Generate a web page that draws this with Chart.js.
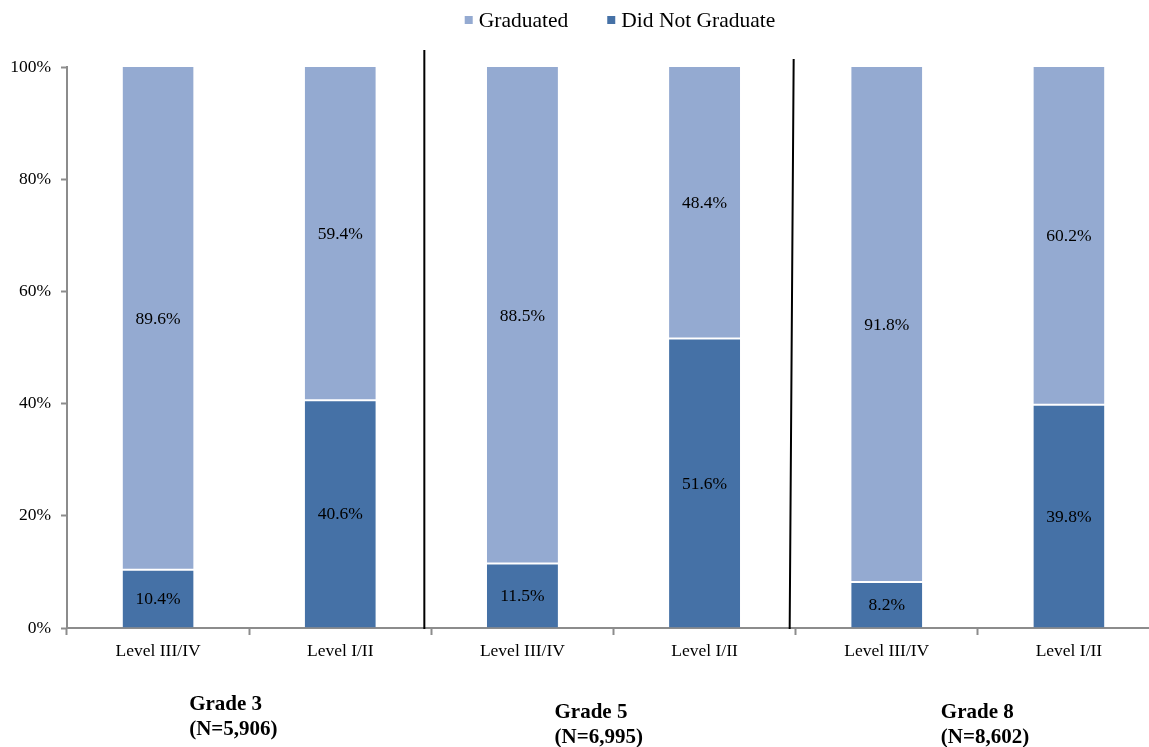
<!DOCTYPE html>
<html>
<head>
<meta charset="utf-8">
<script src="https://cdn.jsdelivr.net/npm/chart.js@4/dist/chart.umd.min.js"></script>
<style>
  html, body { margin: 0; padding: 0; background: #fff; overflow: hidden; }
  #wrap { width: 1149px; height: 747px; overflow: hidden; }
  canvas { display: block; }
</style>
</head>
<body>
<div id="wrap"><canvas id="gradChart" width="1160" height="747"></canvas></div>
<script>
const levels = ["Level III/IV", "Level I/II", "Level III/IV", "Level I/II", "Level III/IV", "Level I/II"];
const graduated = [89.6, 59.4, 88.5, 48.4, 91.8, 60.2];
const notGraduated = [10.4, 40.6, 11.5, 51.6, 8.2, 39.8];
const gradeNames = ["Grade 3", "Grade 5", "Grade 8"];
const gradeCounts = ["(N=5,906)", "(N=6,995)", "(N=8,602)"];
const yTicks = [0, 20, 40, 60, 80, 100];

const serif = "'Liberation Serif', 'Times New Roman', serif";

// value labels centred in each bar segment
const segmentLabels = {
  id: "segmentLabels",
  afterDatasetsDraw(chart) {
    const ctx = chart.ctx;
    ctx.save();
    ctx.font = "17.5px " + serif;
    ctx.fillStyle = "#000";
    ctx.textAlign = "center";
    ctx.textBaseline = "middle";
    chart.data.datasets.forEach((ds, i) => {
      chart.getDatasetMeta(i).data.forEach((bar, j) => {
        const mid = (bar.y + bar.base) / 2;
        ctx.fillText(ds.data[j].toFixed(1) + "%", bar.x, mid + 1);
      });
    });
    ctx.restore();
  }
};

// legend row at the top: Graduated first, then Did Not Graduate
const topLegend = {
  id: "topLegend",
  afterDraw(chart) {
    const ctx = chart.ctx;
    const items = chart.data.datasets.slice().reverse();
    ctx.save();
    ctx.font = "21.5px " + serif;
    ctx.textBaseline = "middle";
    ctx.textAlign = "left";
    const box = 8, gapBox = 6, gapItem = 39, y = 20;
    const widths = items.map((d) => box + gapBox + ctx.measureText(d.label).width);
    const total = widths.reduce((a, b) => a + b, 0) + gapItem * (items.length - 1);
    let x = chart.width / 2 + 40 - total / 2;
    items.forEach((d, i) => {
      ctx.fillStyle = d.backgroundColor;
      ctx.fillRect(x, y - box / 2, box, box);
      ctx.fillStyle = "#000";
      ctx.fillText(d.label, x + box + gapBox, y + 1);
      x += widths[i] + gapItem;
    });
    ctx.restore();
  }
};

// black dividers between grades and the grade captions underneath
const gradeGroups = {
  id: "gradeGroups",
  afterDraw(chart) {
    const ctx = chart.ctx;
    const x = chart.scales.x;
    const area = chart.chartArea;
    ctx.save();
    ctx.strokeStyle = "#000";
    ctx.lineWidth = 2;
    ctx.beginPath();
    ctx.moveTo(x.getPixelForValue(1.5) - 7, area.top - 17);
    ctx.lineTo(x.getPixelForValue(1.5) - 7, area.bottom + 1);
    ctx.moveTo(x.getPixelForValue(3.5) - 2, area.top - 8);
    ctx.lineTo(x.getPixelForValue(3.5) - 6, area.bottom + 1);
    ctx.stroke();

    ctx.font = "bold 21px " + serif;
    ctx.fillStyle = "#000";
    ctx.textAlign = "left";
    ctx.textBaseline = "middle";
    const shift = [-60, -59, -37];
    const drop = [0, 8, 8];
    gradeNames.forEach((name, g) => {
      const cx = x.getPixelForValue(g * 2 + 0.5) + shift[g];
      const y = area.bottom + 77 + drop[g];
      ctx.fillText(name, cx, y);
      ctx.fillText(gradeCounts[g], cx, y + 25);
    });
    ctx.restore();
  }
};

new Chart(document.getElementById("gradChart"), {
  type: "bar",
  data: {
    labels: levels,
    datasets: [
      {
        label: "Did Not Graduate",
        data: notGraduated,
        backgroundColor: "#4571A6",
        borderColor: "#fff",
        borderWidth: { top: 1, left: 0, right: 0, bottom: 0 },
        borderSkipped: false,
      },
      {
        label: "Graduated",
        data: graduated,
        backgroundColor: "#94AAD1",
        borderColor: "#fff",
        borderWidth: { bottom: 1, top: 0, left: 0, right: 0 },
        borderSkipped: false,
      },
    ],
  },
  options: {
    responsive: false,
    animation: false,
    categoryPercentage: 1,
    barPercentage: 0.39,
    layout: { padding: { top: 67, left: 0, right: 0, bottom: 0 } },
    plugins: {
      tooltip: { enabled: false },
      legend: { display: false },
    },
    scales: {
      x: {
        stacked: true,
        grid: {
          offset: true,
          drawOnChartArea: false,
          color: "#8c8c8c",
          tickLength: 7,
          tickWidth: 2,
        },
        border: { color: "#8c8c8c", width: 2 },
        ticks: {
          font: { family: serif, size: 17.5 },
          color: "#000",
          padding: 6,
        },
        afterFit(scale) {
          scale.height = 119;
        },
      },
      y: {
        stacked: true,
        min: 0,
        max: 100,
        afterBuildTicks(scale) {
          scale.ticks = yTicks.map((v) => ({ value: v }));
        },
        grid: {
          drawOnChartArea: false,
          color: "#8c8c8c",
          tickLength: 6,
          tickWidth: 2,
        },
        border: { color: "#8c8c8c", width: 2 },
        ticks: {
          font: { family: serif, size: 17.5 },
          color: "#000",
          padding: 10,
          callback: (v) => v + "%",
        },
        afterFit(scale) {
          scale.width = 67;
        },
      },
    },
  },
  plugins: [segmentLabels, topLegend, gradeGroups],
});
</script>
</body>
</html>
